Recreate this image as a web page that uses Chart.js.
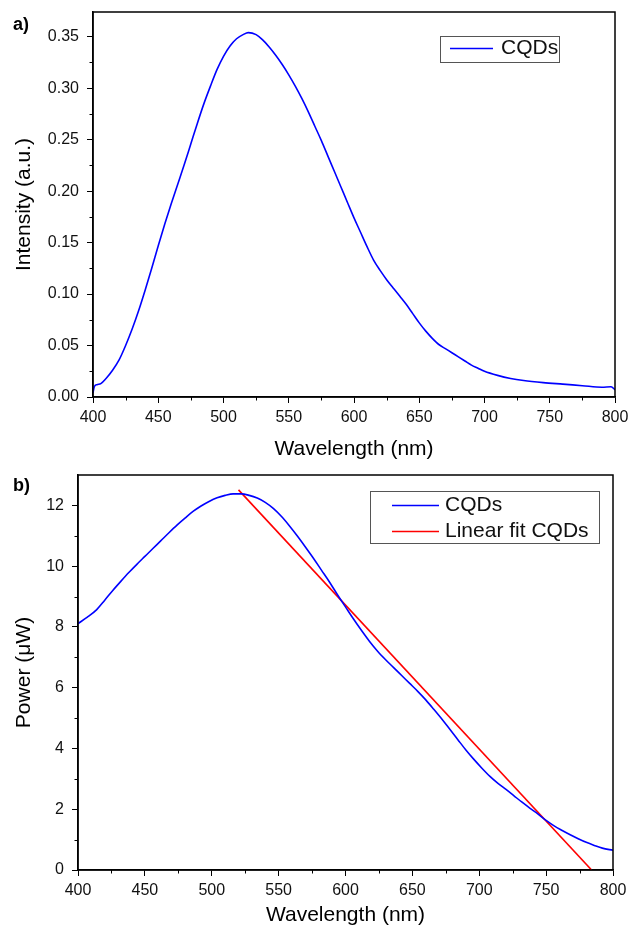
<!DOCTYPE html>
<html><head><meta charset="utf-8">
<script src="https://cdn.jsdelivr.net/npm/chart.js@4"></script>
<style>
html,body{margin:0;padding:0;background:#fff;}
#wrap{position:relative;width:637px;height:935px;overflow:hidden;}
.box{position:absolute;left:0;}
</style></head><body>
<div id="wrap">
<div class="box" style="top:0;width:637px;height:468px;"><canvas id="c1" width="637" height="468"></canvas></div>
<div class="box" style="top:468px;width:637px;height:467px;"><canvas id="c2" width="637" height="467"></canvas></div>
</div>
<script>
// ---------- data: panel a (photoluminescence) ----------
const plWavelength = [400,401,403,406,410,415,420,425,430,435,440,445,450,455,460,465,470,475,480,485,490,495,500,505,510,515,519,525,530,535,540,545,550,555,560,565,570,575,580,585,590,595,600,605,610,615,620,625,630,635,640,645,650,655,660,665,670,675,680,685,690,695,700,710,720,730,745,760,775,790,797,800];
const plIntensity  = [0.004,0.010,0.012,0.013,0.018,0.026,0.036,0.050,0.066,0.084,0.104,0.125,0.147,0.168,0.188,0.207,0.226,0.246,0.266,0.285,0.302,0.318,0.331,0.341,0.348,0.352,0.354,0.352,0.347,0.340,0.332,0.323,0.313,0.302,0.290,0.277,0.263,0.249,0.234,0.219,0.204,0.189,0.174,0.160,0.146,0.133,0.123,0.114,0.106,0.098,0.090,0.081,0.072,0.064,0.057,0.051,0.047,0.043,0.039,0.035,0.031,0.028,0.025,0.021,0.018,0.016,0.014,0.0125,0.011,0.0095,0.010,0.007];
// ---------- data: panel b (power) ----------
const powWavelength = [400,407,414,420,426,432,438,444,450,456,462,468,474,480,486,492,498,504,510,516,522,528,534,540,546,552,558,564,570,576,582,588,594,600,606,612,618,624,630,636,642,648,654,660,666,672,678,684,690,696,702,708,714,720,726,732,738,744,750,756,762,768,774,780,786,792,800];
const powValue      = [8.11,8.32,8.57,8.88,9.20,9.50,9.79,10.06,10.32,10.58,10.84,11.10,11.35,11.58,11.80,11.98,12.13,12.25,12.33,12.38,12.38,12.33,12.24,12.10,11.90,11.64,11.33,10.99,10.63,10.26,9.87,9.48,9.06,8.66,8.26,7.88,7.52,7.20,6.92,6.66,6.40,6.14,5.88,5.60,5.29,4.97,4.63,4.29,3.95,3.64,3.35,3.08,2.85,2.65,2.44,2.23,2.03,1.84,1.63,1.45,1.30,1.16,1.03,0.91,0.81,0.72,0.65];
const fitWavelength = [520, 784];
const fitValue      = [12.51, 0];
// ---------- ticks / labels ----------
const xTicks = [400,450,500,550,600,650,700,750,800];
const intensityTicks = [0,0.05,0.10,0.15,0.20,0.25,0.30,0.35];
const powerTicks = [0,2,4,6,8,10,12];
const seriesA = ['CQDs'];
const seriesB = ['CQDs','Linear fit CQDs'];

const FONT = '"Liberation Sans", Arial, Helvetica, sans-serif';
const mids = (arr, max) => {
  const out = [];
  for (let i = 0; i < arr.length - 1; i++) out.push((arr[i] + arr[i+1]) / 2);
  const step = arr[1] - arr[0];
  const extra = arr[arr.length-1] + step/2;
  if (max !== undefined && extra < max - 1e-9) out.push(extra);
  return out;
};
const pts = (xs, ys) => xs.map((x, i) => ({x, y: ys[i]}));

const framePlugin = {
  id: 'frame',
  afterDraw(chart, args, o) {
    const {ctx, chartArea: a, scales} = chart;
    ctx.save();
    ctx.strokeStyle = '#000'; ctx.lineWidth = 1;
    o.xMinor.forEach(v => {
      const px = Math.round(scales.x.getPixelForValue(v)) + 0.5;
      ctx.beginPath(); ctx.moveTo(px, a.bottom); ctx.lineTo(px, a.bottom + 3.5); ctx.stroke();
    });
    o.yMinor.forEach(v => {
      const py = Math.round(scales.y.getPixelForValue(v)) + 0.5;
      ctx.beginPath(); ctx.moveTo(a.left, py); ctx.lineTo(a.left - 3.5, py); ctx.stroke();
    });
    ctx.lineWidth = 1.5;
    ctx.strokeRect(a.left, a.top, a.right - a.left, a.bottom - a.top);
    ctx.fillStyle = '#000';
    ctx.font = 'bold 18px ' + FONT;
    ctx.textAlign = 'left'; ctx.textBaseline = 'middle';
    ctx.fillText(o.label, o.labelX, o.labelY);
    const L = o.legend;
    const bx = a.right - L.fromRight, by = a.top + L.fromTop;
    ctx.fillStyle = '#fff';
    ctx.fillRect(bx, by, L.w, L.h);
    ctx.strokeStyle = '#555'; ctx.lineWidth = 1;
    ctx.strokeRect(Math.round(bx) + 0.5, Math.round(by) + 0.5, L.w, L.h);
    ctx.font = '21px ' + FONT;
    chart.data.datasets.forEach((ds, i) => {
      const cy = by + L.firstRow + i * L.rowGap;
      ctx.strokeStyle = ds.borderColor; ctx.lineWidth = 1.5;
      ctx.beginPath(); ctx.moveTo(bx + L.lineStart, cy); ctx.lineTo(bx + L.lineEnd, cy); ctx.stroke();
      ctx.fillStyle = '#111';
      ctx.fillText(ds.label, bx + L.textX, cy);
    });
    ctx.restore();
  }
};

const zeroPad = s => { s.paddingTop = 0; s.paddingBottom = 0; s.paddingLeft = 0; s.paddingRight = 0; };

function makeOptions(cfg) {
  return {
    responsive: false,
    animation: false,
    layout: { padding: cfg.padding },
    plugins: {
      legend: { display: false },
      tooltip: { enabled: false },
      frame: cfg.frame
    },
    scales: {
      x: {
        type: 'linear', min: 400, max: 800,
        afterBuildTicks: s => { s.ticks = xTicks.map(v => ({value: v})); },
        afterFit: s => { s.height = cfg.xHeight; zeroPad(s); },
        grid: { display: true, drawOnChartArea: false, drawTicks: true, tickLength: 6, color: '#000', lineWidth: 1 },
        border: { display: true, color: '#000', width: 1.5 },
        ticks: { color: '#111', font: { family: FONT, size: 16 }, padding: 5, maxRotation: 0, autoSkip: false },
        title: { display: true, text: 'Wavelength (nm)', color: '#000', font: { family: FONT, size: 21 }, padding: { top: 0, bottom: cfg.xTitlePad } }
      },
      y: {
        type: 'linear', min: 0, max: cfg.yMax,
        afterBuildTicks: s => { s.ticks = cfg.yTicks.map(v => ({value: v})); },
        afterFit: s => { s.width = cfg.yWidth; zeroPad(s); },
        grid: { display: true, drawOnChartArea: false, drawTicks: true, tickLength: 6, color: '#000', lineWidth: 1 },
        border: { display: true, color: '#000', width: 1.5 },
        ticks: { color: '#111', font: { family: FONT, size: 16 }, padding: 8, autoSkip: false, callback: cfg.yFmt },
        title: { display: true, text: cfg.yTitle, color: '#000', font: { family: FONT, size: 21 }, padding: { top: 12, bottom: 0 } }
      }
    }
  };
}

const lineDs = (label, data, color) => ({
  label, data, borderColor: color, backgroundColor: color, borderWidth: 1.6,
  pointRadius: 0, fill: false, cubicInterpolationMode: 'monotone', tension: 0.4
});

new Chart(document.getElementById('c1'), {
  type: 'line',
  data: { datasets: [ lineDs(seriesA[0], pts(plWavelength, plIntensity), '#0000ff') ] },
  options: makeOptions({
    padding: { left: 0, top: 12, right: 22, bottom: 0 },
    xHeight: 71, yWidth: 93, xTitlePad: 6, yMax: 0.374,
    yTicks: intensityTicks, yFmt: v => Number(v).toFixed(2),
    yTitle: 'Intensity (a.u.)',
    frame: {
      xMinor: mids(xTicks), yMinor: mids(intensityTicks, 0.374),
      label: 'a)', labelX: 13, labelY: 25,
      legend: { fromRight: 175, fromTop: 24, w: 119, h: 26, lineStart: 10, lineEnd: 53, textX: 61, firstRow: 12.5, rowGap: 26 }
    }
  }),
  plugins: [framePlugin]
});

new Chart(document.getElementById('c2'), {
  type: 'line',
  data: { datasets: [
    lineDs(seriesB[0], pts(powWavelength, powValue), '#0000ff'),
    Object.assign(lineDs(seriesB[1], pts(fitWavelength, fitValue), '#ff0000'), { cubicInterpolationMode: 'default', tension: 0 })
  ] },
  options: makeOptions({
    padding: { left: 0, top: 7, right: 24, bottom: 0 },
    xHeight: 65, yWidth: 78, xTitlePad: 7, yMax: 13,
    yTicks: powerTicks, yFmt: v => String(v),
    yTitle: 'Power (\u03bcW)',
    frame: {
      xMinor: mids(xTicks), yMinor: mids(powerTicks, 13),
      label: 'b)', labelX: 13, labelY: 18.5,
      legend: { fromRight: 243, fromTop: 16, w: 229, h: 52, lineStart: 22, lineEnd: 69, textX: 75, firstRow: 14.5, rowGap: 26 }
    }
  }),
  plugins: [framePlugin]
});
</script>
</body></html>
